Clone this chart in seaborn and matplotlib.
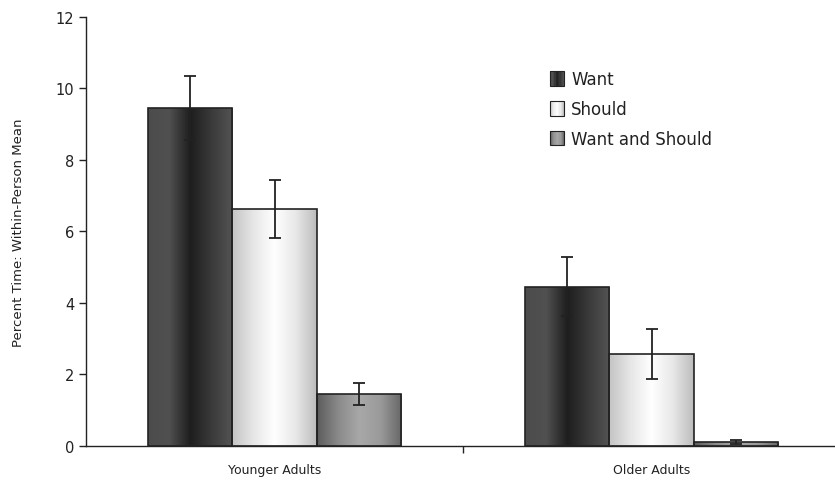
import numpy as np
import pandas as pd
import seaborn as sns
import matplotlib.pyplot as plt
from matplotlib.colors import LinearSegmentedColormap
from matplotlib.patches import Rectangle
from matplotlib.legend_handler import HandlerBase

groups = ['Younger Adults', 'Older Adults']
series = ['Want', 'Should', 'Want and Should']
want = [9.45, 4.45]
should = [6.62, 2.57]
both = [1.45, 0.10]
want_err = [0.90, 0.82]
should_err = [0.82, 0.70]
both_err = [0.32, 0.05]

# gradient stops (left -> centre -> right) for each series
grads = {
    'Want': ['#4c4c4c', '#505050', '#1e1e1e', '#3a3a3a', '#545454'],
    'Should': ['#c4c4c4', '#e6e6e6', '#ffffff', '#e8e8e8', '#bcbcbc'],
    'Want and Should': ['#5c5c5c', '#8a8a8a', '#a8a8a8', '#9a9a9a', '#666666'],
}
cmaps = {k: LinearSegmentedColormap.from_list(k, v) for k, v in grads.items()}

df = pd.DataFrame({
    'group': groups * 3,
    'series': [s for s in series for _ in groups],
    'value': want + should + both,
    'err': want_err + should_err + both_err,
})

sns.set_style('white')
plt.rcParams['font.family'] = ['DejaVu Sans']

fig = plt.figure(figsize=(8.35, 4.81), dpi=100)
ax = fig.add_axes([0.103, 0.071, 0.903, 0.892])

sns.barplot(data=df, x='group', y='value', hue='series', order=groups,
            hue_order=series, width=0.67, errorbar=None, legend=False,
            edgecolor='#222222', linewidth=1.2, ax=ax)

ramp = np.linspace(0, 1, 256).reshape(1, -1)
for i, s in enumerate(series):
    cont = ax.containers[i]
    sub = df[df['series'] == s].set_index('group').loc[groups]
    for bar, val, err in zip(cont, sub['value'], sub['err']):
        x0, w, h = bar.get_x(), bar.get_width(), bar.get_height()
        bar.set_facecolor('none')
        im = ax.imshow(ramp, cmap=cmaps[s], aspect='auto',
                       extent=[x0, x0 + w, 0, h], zorder=bar.get_zorder() - 0.1)
        im.set_clip_path(bar)
        ax.errorbar(x0 + w / 2, val, yerr=err, fmt='none', ecolor='#222222',
                    elinewidth=1.3, capsize=4.5, capthick=1.3, zorder=5)

ax.set_xlim(-0.5, 1.5)
ax.set_ylim(0, 12)
ax.set_yticks(range(0, 13, 2))
ax.set_xticks([0.5], minor=False)
ax.set_xticks([0, 1], minor=True)
ax.set_xticklabels([''])
ax.set_xticklabels(groups, minor=True)
ax.tick_params(axis='x', which='major', bottom=True, direction='out', length=5,
               width=1, color='#222222')
ax.tick_params(axis='x', which='minor', bottom=True, length=0, labelsize=9, pad=12,
               labelcolor='#222222')
ax.tick_params(axis='y', left=True, direction='out', length=5, width=1, color='#222222',
               labelsize=10.5, labelcolor='#222222')
ax.set_xlabel('')
ax.set_ylabel('Percent Time: Within-Person Mean', fontsize=9.5, color='#222222', labelpad=22)
for side in ['top', 'right']:
    ax.spines[side].set_visible(False)
for side in ['left', 'bottom']:
    ax.spines[side].set_color('#222222')
    ax.spines[side].set_linewidth(1)


class GradHandler(HandlerBase):
    def __init__(self, cmap):
        super().__init__()
        self.cmap = cmap

    def create_artists(self, legend, orig_handle, xdescent, ydescent,
                       width, height, fontsize, trans):
        side = min(width, height) * 1.25
        x0 = -xdescent
        y0 = -ydescent + (height - side) / 2
        arts = []
        n = 12
        for k in range(n):
            r = Rectangle((x0 + k * side / n, y0), side / n, side,
                          facecolor=self.cmap((k + 0.5) / n), edgecolor='none',
                          transform=trans)
            arts.append(r)
        arts.append(Rectangle((x0, y0), side, side, facecolor='none',
                              edgecolor='#222222', linewidth=0.8, transform=trans))
        return arts


handles = [Rectangle((0, 0), 1, 1) for _ in series]
ax.legend(handles, series, loc='upper left', bbox_to_anchor=(0.595, 0.91),
          frameon=False, fontsize=12, handlelength=1.0, handletextpad=0.3,
          labelspacing=0.7, labelcolor='#222222',
          handler_map={h: GradHandler(cmaps[s]) for h, s in zip(handles, series)})

fig.savefig('out.png', dpi=100)
